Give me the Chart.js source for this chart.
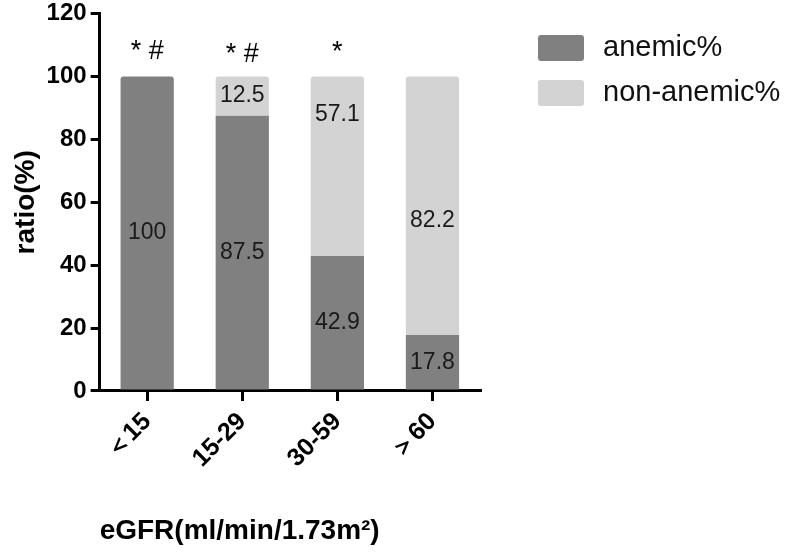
<!DOCTYPE html>
<html>
<head>
<meta charset="utf-8">
<script src="https://cdn.jsdelivr.net/npm/chart.js@4/dist/chart.umd.min.js"></script>
<style>
  html, body { margin: 0; padding: 0; background: #fff; }
  #wrap { width: 794px; height: 552px; }
</style>
</head>
<body>
<div id="wrap"><canvas id="chart"></canvas></div>
<script>
// DATA
// -----------------------------------------------------------------------------
var categories = ['＜15', '15-29', '30-59', '＞60'];
var anemic = [100, 87.5, 42.9, 17.8];
var nonAnemic = [0, 12.5, 57.1, 82.2];
var marks = ['* #', '* #', '*', ''];
var yTicks = [0, 20, 40, 60, 80, 100, 120];

var DARK = '#808080';
var LIGHT = '#d3d3d3';
var FONT = "'Liberation Sans', Arial, sans-serif";

// value labels, significance marks and the legend
// -----------------------------------------------------------------------------
var annotate = {
    id: 'annotate',
    afterDatasetsDraw: function(chart, args, opts) {
        var ctx = chart.ctx;
        var y = chart.scales.y;
        ctx.save();
        ctx.textAlign = 'center';
        ctx.textBaseline = 'middle';
        ctx.fillStyle = '#1a1a1a';
        ctx.font = '23px ' + FONT;
        chart.data.datasets.forEach(function(ds, di) {
            var meta = chart.getDatasetMeta(di);
            var anchors = opts.labelAt[di];
            meta.data.forEach(function(bar, i) {
                var v = ds.data[i];
                if (!v) return;
                var py = anchors && anchors[i] != null
                    ? y.getPixelForValue(anchors[i])
                    : (bar.y + bar.base) / 2;
                ctx.fillText(String(v), bar.x, py);
            });
        });
        // marks above the bars
        ctx.font = '27px ' + FONT;
        ctx.fillStyle = '#000';
        var meta0 = chart.getDatasetMeta(0);
        marks.forEach(function(m, i) {
            if (!m) return;
            ctx.fillText(m, meta0.data[i].x, y.getPixelForValue(opts.markAt[i]));
        });
        ctx.restore();
    },
    afterDraw: function(chart) {
        var ctx = chart.ctx;
        ctx.save();
        ctx.font = '29px ' + FONT;
        ctx.textBaseline = 'middle';
        ctx.textAlign = 'left';
        chart.data.datasets.forEach(function(ds, i) {
            var top = 35 + i * 45;
            ctx.fillStyle = ds.backgroundColor;
            ctx.beginPath();
            ctx.roundRect(538, top, 46, 26, 3);
            ctx.fill();
            ctx.fillStyle = '#111';
            ctx.fillText(ds.label, 603, top + 13);
        });
        ctx.restore();
    }
};

var chart = new Chart(document.getElementById('chart'), {
    type: 'bar',
    data: {
        labels: categories,
        datasets: [{
            label: 'anemic%',
            data: anemic,
            backgroundColor: DARK,
            borderRadius: 3,
            borderSkipped: 'bottom',
            barPercentage: 0.56,
            categoryPercentage: 1
        }, {
            label: 'non-anemic%',
            data: nonAnemic,
            backgroundColor: LIGHT,
            borderRadius: 3,
            borderSkipped: 'bottom',
            barPercentage: 0.56,
            categoryPercentage: 1
        }]
    },
    options: {
        responsive: true,
        maintainAspectRatio: false,
        animation: false,
        layout: { padding: { left: 0, right: 314, top: 0, bottom: 4 } },
        plugins: {
            legend: { display: false },
            tooltip: { enabled: false },
            annotate: {
                labelAt: [null, [null, null, 88, 54]],
                markAt: [108, 107, 107.5, null]
            }
        },
        scales: {
            x: {
                stacked: true,
                offset: true,
                border: { display: true, color: '#000', width: 3 },
                grid: {
                    offset: false,
                    drawOnChartArea: false,
                    drawTicks: true,
                    tickLength: 10,
                    color: '#000',
                    lineWidth: 3
                },
                ticks: {
                    color: '#000',
                    minRotation: 45,
                    maxRotation: 45,
                    padding: 6,
                    font: { family: FONT, size: 25, weight: 'bold' }
                },
                title: {
                    display: true,
                    text: 'eGFR(ml/min/1.73m²)',
                    align: 'start',
                    color: '#000',
                    padding: { top: 35, bottom: 0 },
                    font: { family: FONT, size: 28, weight: 'bold' }
                }
            },
            y: {
                stacked: true,
                min: 0,
                max: 120,
                border: { display: true, color: '#000', width: 3 },
                grid: {
                    drawOnChartArea: false,
                    drawTicks: true,
                    tickLength: 9,
                    color: '#000',
                    lineWidth: 3
                },
                afterBuildTicks: function(axis) {
                    axis.ticks = yTicks.map(function(v) { return { value: v }; });
                },
                ticks: {
                    color: '#000',
                    padding: 4,
                    font: { family: FONT, size: 24, weight: 'bold', lineHeight: 0.8 }
                },
                title: {
                    display: true,
                    text: 'ratio(%)',
                    color: '#000',
                    padding: { top: 9, bottom: 0 },
                    font: { family: FONT, size: 28, weight: 'bold' }
                }
            }
        }
    },
    plugins: [annotate]
});
</script>
</body>
</html>
